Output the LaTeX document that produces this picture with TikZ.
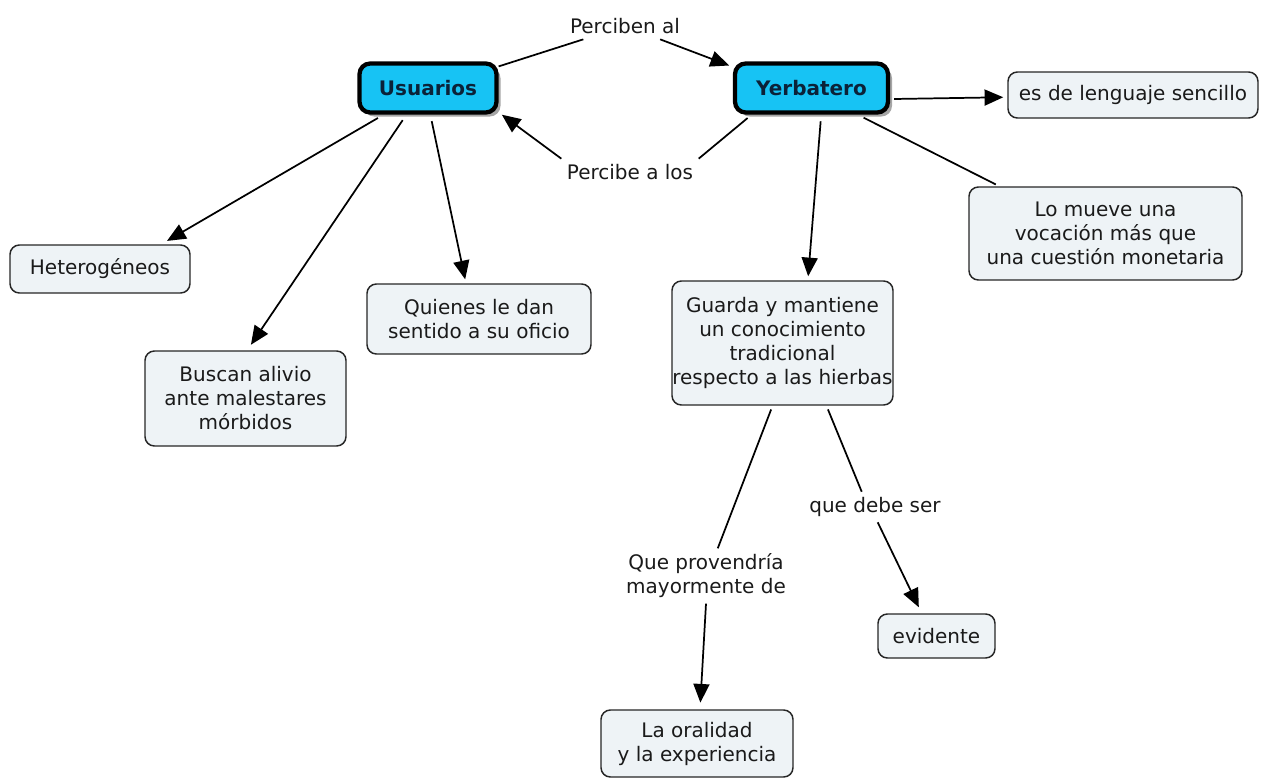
\documentclass[tikz,border=0pt]{standalone}
\usepackage{fontspec}
\setmainfont{DejaVu Sans}
\usetikzlibrary{arrows.meta,shadows}
\definecolor{boxfill}{HTML}{EEF3F6}
\definecolor{maincyan}{HTML}{17C3F4}
\definecolor{maintext}{HTML}{0B2238}
\definecolor{txt}{HTML}{1A1A1A}
\begin{document}
\begin{tikzpicture}[x=0.75pt,y=-0.75pt,
  every node/.style={font=\fontsize{15}{18}\selectfont, text=txt, align=center},
  concept/.style={draw=black!85, line width=1.1pt, rounded corners=7pt, fill=boxfill, inner xsep=0pt, inner ysep=2pt},
  mainconcept/.style={draw=black, line width=3.2pt, rounded corners=8pt, fill=maincyan,
     font=\fontsize{15}{18}\selectfont\bfseries, text=maintext,
     drop shadow={shadow xshift=3pt, shadow yshift=-3pt, fill=black!35, opacity=1}},
  linklabel/.style={inner sep=4pt},
  conn/.style={line width=1.3pt, draw=black},
  arr/.style={conn, -{Triangle[length=14pt,width=12pt]}}
]
\path[use as bounding box] (0,0) rectangle (1261,779);

% main concepts
\node[mainconcept, minimum width=102.75pt, minimum height=36.75pt] (u) at (428,88) {Usuarios};
\node[mainconcept, minimum width=114.75pt, minimum height=36.75pt] (y) at (811.5,88) {Yerbatero};

% concepts
\node[concept, minimum width=187.5pt, minimum height=34.5pt] (sen) at (1133,95) {es de lenguaje sencillo};
\node[concept, minimum width=204.75pt, minimum height=69.75pt] (lm) at (1105.5,233.5) {Lo mueve una\\vocación más que\\una cuestión monetaria};
\node[concept, minimum width=135pt, minimum height=36pt] (het) at (100,269) {Heterogéneos};
\node[concept, minimum width=150.75pt, minimum height=71.25pt] (bus) at (245.5,398.5) {Buscan alivio\\ante malestares\\mórbidos};
\node[concept, minimum width=168pt, minimum height=52.5pt] (qui) at (479,319) {Quienes le dan\\sentido a su oficio};
\node[concept, minimum width=165.75pt, minimum height=93pt] (gua) at (782.5,343) {Guarda y mantiene\\un conocimiento\\tradicional\\respecto a las hierbas};
\node[concept, minimum width=87.75pt, minimum height=33pt] (ev) at (936.5,636) {evidente};
\node[concept, minimum width=144pt, minimum height=50.25pt] (ol) at (697,743.5) {La oralidad\\y la experiencia};

% link labels
\node[linklabel] (pa) at (625,26) {Perciben al};
\node[linklabel] (pl) at (630,172) {Percibe a los};
\node[linklabel] (qp) at (706,576) {Que provendría\\mayormente de};
\node[linklabel] (qd) at (875,507) {que debe ser};

% connectors
\draw[conn] (u.17) -- (pa);
\draw[arr, shorten >=3pt] (pa) -- (y.165);
\draw[conn, shorten <=4pt] (y.204) -- (pl.north east);
\draw[arr, shorten >=3pt] (pl.north west) -- (u.341);
\draw[arr, shorten <=3pt, shorten >=3pt] (y.352) -- (sen.181);
\draw[conn, shorten <=5pt, shorten >=3pt] (y.330) -- (lm.156);
\draw[arr, shorten <=5pt, shorten >=3pt] (y.290) -- (gua.68);
\draw[arr, shorten <=5pt, shorten >=5pt] (u.211) -- (het.22);
\draw[arr, shorten <=5pt, shorten >=5pt] (u.231) -- (bus.88);
\draw[arr, shorten <=5pt, shorten >=3pt] (u.275) -- (qui.110);
\draw[conn, shorten <=3pt] (gua.261) -- (qp.67);
\draw[arr, shorten >=5pt] (qp.south) -- (ol.85);
\draw[conn, shorten <=3pt] (gua.305) -- (qd.131);
\draw[arr, shorten >=5pt] (qd.-80) -- (ev.123);
\end{tikzpicture}
\end{document}
